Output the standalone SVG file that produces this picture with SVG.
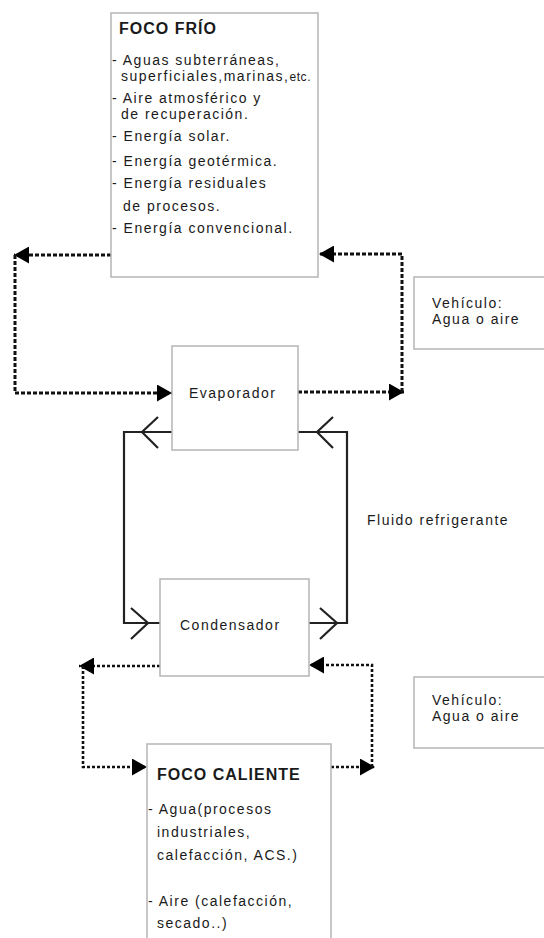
<svg xmlns="http://www.w3.org/2000/svg" width="544" height="938" viewBox="0 0 544 938">
<style>
.box{fill:#fff;stroke:#b5b5b5;stroke-width:1.5}
.t{font-family:"Liberation Sans",Arial,sans-serif;font-size:14px;letter-spacing:1.5px;fill:#1a1a1a}
.b{font-weight:bold;font-size:16px;letter-spacing:1px}
.sm{font-size:12px;letter-spacing:0.6px}
.dash{fill:none;stroke:#111;stroke-width:3;stroke-dasharray:4 2}
.dot{fill:none;stroke:#111;stroke-width:2.6;stroke-dasharray:3 2}
.loop{fill:none;stroke:#222;stroke-width:2.2}
</style>
<defs>
<marker id="ah" markerUnits="userSpaceOnUse" markerWidth="16" markerHeight="17" refX="15" refY="8.5" orient="auto" viewBox="0 0 16 17">
<path d="M0,0 L15,8.5 L0,17 Z" fill="#000"/>
</marker>
</defs>

<g id="connectors">
<!-- Foco frio <-> Evaporador -->
<path class="dash" d="M111,255 L14,255" marker-end="url(#ah)"/>
<path class="dash" d="M15,255 L15,393 L172,393" marker-end="url(#ah)"/>
<path class="dash" d="M298,392 L404,392" marker-end="url(#ah)"/>
<path class="dash" d="M402,392 L402,254 L319,254" marker-end="url(#ah)"/>
<!-- Condensador <-> Foco caliente -->
<path class="dot" d="M160,666 L79,666" marker-end="url(#ah)"/>
<path class="dot" d="M83,666 L83,767 L147,767" marker-end="url(#ah)"/>
<path class="dot" d="M331,767 L375,767" marker-end="url(#ah)"/>
<path class="dot" d="M372,767 L372,665 L309,665" marker-end="url(#ah)"/>
<!-- refrigerant loop -->
<path class="loop" d="M172,432 L124,432 L124,623 L160,623"/>
<path class="loop" d="M309,623 L347,623 L347,432 L298,432"/>
<polyline class="loop" points="158,417 142,432 158,448"/>
<polyline class="loop" points="333,417 317,432 333,448"/>
<polyline class="loop" points="131,608 148,623 131,639"/>
<polyline class="loop" points="320,608 337,623 320,639"/>
</g>

<g id="foco-frio">
<rect class="box" x="111" y="13" width="207" height="264"/>
<text class="t b" x="119" y="34">FOCO FRÍO</text>
<text class="t" x="112" y="65">- Aguas subterráneas,</text>
<text class="t" x="121" y="81">superficiales,marinas,<tspan class="sm">etc.</tspan></text>
<text class="t" x="112" y="103">- Aire atmosférico y</text>
<text class="t" x="121" y="119">de recuperación.</text>
<text class="t" x="112" y="141">- Energía solar.</text>
<text class="t" x="112" y="166">- Energía geotérmica.</text>
<text class="t" x="112" y="188">- Energía residuales</text>
<text class="t" x="123" y="211">de procesos.</text>
<text class="t" x="112" y="233">- Energía convencional.</text>
</g>

<g id="vehiculo-1">
<rect class="box" x="414" y="277" width="150" height="72"/>
<text class="t" x="432" y="308">Vehículo:</text>
<text class="t" x="432" y="324">Agua o aire</text>
</g>

<g id="evaporador">
<rect class="box" x="172" y="346" width="126" height="104"/>
<text class="t" x="189" y="398">Evaporador</text>
</g>

<g id="fluido-label">
<text class="t" x="367" y="525">Fluido refrigerante</text>
</g>

<g id="condensador">
<rect class="box" x="160" y="579" width="149" height="97"/>
<text class="t" x="180" y="630">Condensador</text>
</g>

<g id="vehiculo-2">
<rect class="box" x="414" y="677" width="150" height="71"/>
<text class="t" x="432" y="705">Vehículo:</text>
<text class="t" x="432" y="721">Agua o aire</text>
</g>

<g id="foco-caliente">
<rect class="box" x="147" y="744" width="184" height="220"/>
<text class="t b" x="157" y="780">FOCO CALIENTE</text>
<text class="t" x="148" y="814">- Agua(procesos</text>
<text class="t" x="157" y="837">industriales,</text>
<text class="t" x="157" y="860">calefacción, ACS.)</text>
<text class="t" x="148" y="906">- Aire (calefacción,</text>
<text class="t" x="157" y="928">secado..)</text>
</g>
</svg>
